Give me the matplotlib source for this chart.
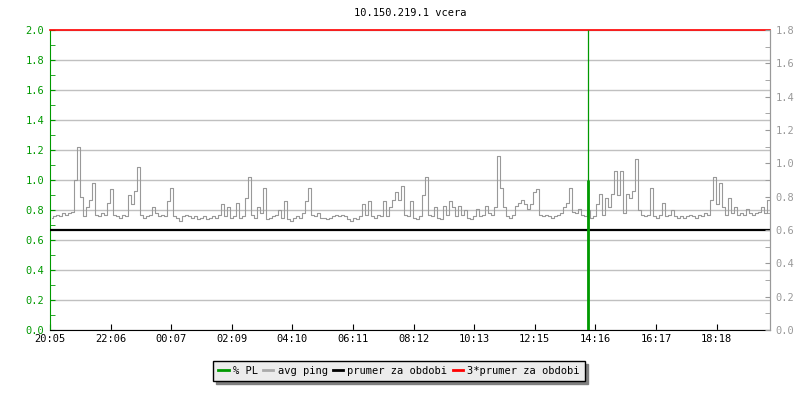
import matplotlib
matplotlib.use("Agg")
import matplotlib.pyplot as plt
from matplotlib.ticker import MultipleLocator, FormatStrFormatter

# ---------------- data ----------------
title = "10.150.219.1 vcera"
tick_labels = ["20:05", "22:06", "00:07", "02:09", "04:10", "06:11",
               "08:12", "10:13", "12:15", "14:16", "16:17", "18:18"]
tick_step_min = 121.2     # minutes between labelled ticks
sample_step_min = 6       # one avg ping sample every 6 minutes

avg_ping = [
    0.75, 0.76, 0.77, 0.76, 0.78, 0.77, 0.78, 0.79, 1.00, 1.22, 0.89, 0.76, 0.82, 0.87, 0.98, 0.77, 0.76, 0.78, 0.77, 0.85,
    0.94, 0.77, 0.76, 0.75, 0.77, 0.76, 0.90, 0.84, 0.93, 1.09, 0.77, 0.75, 0.76, 0.77, 0.82, 0.78, 0.76, 0.77, 0.76, 0.86,
    0.95, 0.76, 0.75, 0.73, 0.76, 0.77, 0.76, 0.75, 0.76, 0.74, 0.75, 0.76, 0.74, 0.75, 0.76, 0.75, 0.77, 0.84, 0.76, 0.82,
    0.75, 0.76, 0.85, 0.75, 0.76, 0.88, 1.02, 0.77, 0.75, 0.82, 0.78, 0.95, 0.74, 0.75, 0.76, 0.77, 0.80, 0.75, 0.86, 0.74,
    0.73, 0.75, 0.76, 0.75, 0.78, 0.86, 0.95, 0.77, 0.76, 0.78, 0.75, 0.75, 0.74, 0.75, 0.76, 0.77, 0.76, 0.77, 0.76, 0.74,
    0.73, 0.75, 0.74, 0.76, 0.84, 0.77, 0.86, 0.76, 0.75, 0.77, 0.76, 0.86, 0.76, 0.82, 0.87, 0.92, 0.87, 0.96, 0.77, 0.76,
    0.86, 0.75, 0.74, 0.76, 0.90, 1.02, 0.77, 0.76, 0.82, 0.75, 0.74, 0.83, 0.77, 0.86, 0.82, 0.76, 0.83, 0.77, 0.80, 0.75,
    0.74, 0.76, 0.81, 0.76, 0.77, 0.83, 0.78, 0.77, 0.82, 1.16, 0.95, 0.82, 0.76, 0.75, 0.77, 0.83, 0.85, 0.87, 0.84, 0.81,
    0.84, 0.92, 0.94, 0.77, 0.76, 0.77, 0.76, 0.75, 0.76, 0.77, 0.78, 0.82, 0.85, 0.95, 0.79, 0.78, 0.81, 0.77, 0.76, 0.80,
    0.75, 0.76, 0.84, 0.91, 0.77, 0.88, 0.82, 0.91, 1.06, 0.90, 1.06, 0.78, 0.91, 0.88, 0.93, 1.14, 0.80, 0.77, 0.76, 0.77,
    0.95, 0.76, 0.75, 0.77, 0.85, 0.76, 0.77, 0.80, 0.76, 0.75, 0.76, 0.75, 0.76, 0.77, 0.76, 0.75, 0.77, 0.76, 0.78, 0.77,
    0.87, 1.02, 0.84, 0.98, 0.82, 0.77, 0.88, 0.78, 0.82, 0.77, 0.78, 0.77, 0.81, 0.78, 0.77, 0.78, 0.79, 0.82, 0.78, 0.87,
]
prumer = 0.667            # average over period
pl_time = 1076            # minutes after 20:05 when packet loss occurred
pl_peak = 2.0             # clipped at top of chart
pl_level = 1.0

# ---------------- plot ----------------
GREEN = "#009900"
GRAY = "#999999"
FONT = "DejaVu Sans Mono"
FS = 7.5

fig = plt.figure(figsize=(8, 4), dpi=100)
ax = fig.add_axes([50 / 800, 70 / 400, 720 / 800, 300 / 400])

t = [(i + 0.5) * sample_step_min for i in range(len(avg_ping))]
total = len(avg_ping) * sample_step_min

ax.vlines(pl_time, 0, pl_peak, color=GREEN, lw=0.9, zorder=4)
ax.vlines(pl_time, 0, pl_level, color=GREEN, lw=2.0, zorder=4)
ax.step(t, avg_ping, where="mid", color=GRAY, lw=0.8, zorder=3)
ax.axhline(prumer, color="black", lw=1.6, zorder=3)
ax.axhline(3 * prumer, color="red", lw=1.2, zorder=3, clip_on=False)

# legend handles
h_pl, = ax.plot([], [], color=GREEN, lw=2, label="% PL")
h_avg, = ax.plot([], [], color="#aaaaaa", lw=2, label="avg ping")
h_pr, = ax.plot([], [], color="black", lw=2, label="prumer za obdobi")
h_3pr, = ax.plot([], [], color="red", lw=2, label="3*prumer za obdobi")

ax.set_xlim(0, total)
ax.set_ylim(0, 2.0)
ax.set_xticks([k * tick_step_min for k in range(len(tick_labels))])
ax.set_xticklabels(tick_labels, fontfamily=FONT, fontsize=FS)
ax.yaxis.set_major_locator(MultipleLocator(0.2))
ax.yaxis.set_minor_locator(MultipleLocator(0.1))
ax.yaxis.set_major_formatter(FormatStrFormatter("%.1f"))
ax.grid(axis="y", which="major", color="#c0c0c0", lw=1)
ax.set_axisbelow(True)

ax.tick_params(axis="x", direction="in", length=4, color="black", pad=3)
ax.tick_params(axis="y", which="both", direction="in", length=3.5, color=GREEN,
               labelcolor=GREEN, pad=4)
for lab in ax.get_yticklabels():
    lab.set_fontfamily(FONT)
    lab.set_fontsize(FS)

ax.spines["top"].set_visible(False)
ax.spines["left"].set_color(GREEN)
ax.spines["right"].set_color(GRAY)
ax.spines["bottom"].set_color("black")

ax2 = ax.twinx()
ax2.set_ylim(0, 1.8)
ax2.yaxis.set_major_locator(MultipleLocator(0.2))
ax2.yaxis.set_minor_locator(MultipleLocator(0.1))
ax2.yaxis.set_major_formatter(FormatStrFormatter("%.1f"))
ax2.tick_params(axis="y", which="both", direction="in", length=3.5, color=GRAY,
                labelcolor=GRAY, pad=4)
for lab in ax2.get_yticklabels():
    lab.set_fontfamily(FONT)
    lab.set_fontsize(FS)
for s in ["top", "left", "bottom"]:
    ax2.spines[s].set_visible(False)
ax2.spines["right"].set_color(GRAY)

fig.text(410 / 800, 1 - 13 / 400, title, ha="center", va="center",
         fontfamily=FONT, fontsize=FS)

leg = fig.legend(handles=[h_pl, h_avg, h_pr, h_3pr], loc="center",
                 bbox_to_anchor=(399 / 800, 1 - 371 / 400), ncol=4,
                 prop={"family": FONT, "size": FS}, handlelength=1.0,
                 handletextpad=0.4, columnspacing=0.5, borderpad=0.5,
                 fancybox=False, framealpha=1, facecolor="#ececec",
                 edgecolor="black", shadow={"color": "#808080", "alpha": 1})
leg.get_frame().set_linewidth(1)

fig.savefig("out.png", dpi=100)
